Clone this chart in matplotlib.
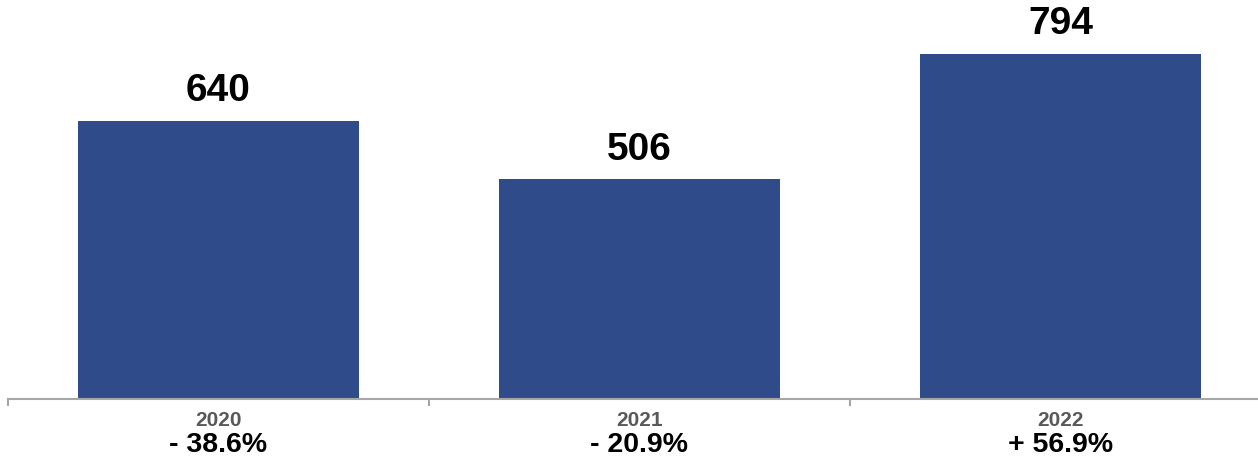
import numpy as np
import matplotlib.pyplot as plt
from matplotlib.transforms import blended_transform_factory

# data
years = ['2020', '2021', '2022']
values = [640, 506, 794]
changes = ['- 38.6%', '- 20.9%', '+ 56.9%']

plt.rcParams['font.family'] = ['Liberation Sans', 'DejaVu Sans']

W, H = 1258, 464
fig = plt.figure(figsize=(W / 100, H / 100), dpi=100)
# axes: left edge at x=8px, baseline at y=400px, slot width 421px
ax = fig.add_axes([8 / W, (H - 400) / H, 1263 / W, 400 / H])

x = np.arange(len(years))
ax.bar(x, values, width=0.667, color='#304B8A')
ax.set_xlim(-0.5, 2.5)
ax.set_ylim(0, 920)

for xi, v in zip(x, values):
    ax.annotate(str(v), (xi, v), xytext=(0, 9), textcoords='offset points',
                ha='center', va='bottom', fontsize=28, fontweight='bold')

for s in ['top', 'right', 'left']:
    ax.spines[s].set_visible(False)
ax.spines['bottom'].set_color('#A6A6A6')
ax.spines['bottom'].set_linewidth(1.5)
ax.set_yticks([])

ax.set_xticks(x)
ax.set_xticklabels(years, fontsize=15, fontweight='bold', color='#595959')
ax.tick_params(axis='x', which='major', length=0, pad=8)
ax.set_xticks([-0.5, 0.5, 1.5], minor=True)
ax.tick_params(axis='x', which='minor', length=5, width=1.5, color='#A6A6A6')

trans = blended_transform_factory(ax.transData, fig.transFigure)
for xi, c in zip(x, changes):
    ax.text(xi, (H - 445) / H, c, transform=trans, ha='center', va='center',
            fontsize=20.5, fontweight='bold')

fig.savefig('out.png', dpi=100)
